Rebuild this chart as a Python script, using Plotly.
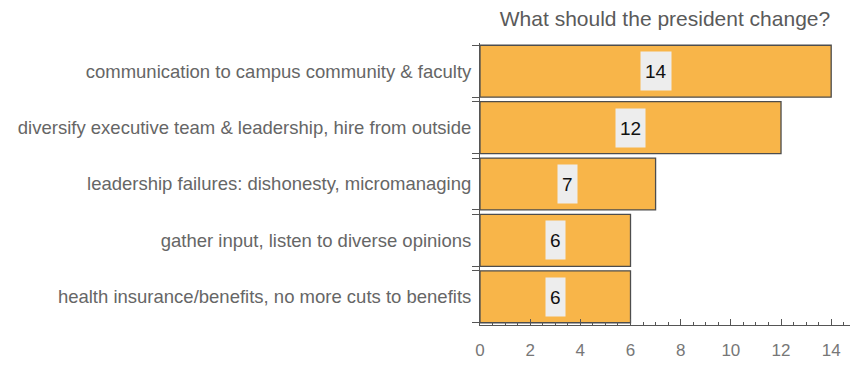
import plotly.graph_objects as go

categories = [
    "communication to campus community & faculty",
    "diversify executive team & leadership, hire from outside",
    "leadership failures: dishonesty, micromanaging",
    "gather input, listen to diverse opinions",
    "health insurance/benefits, no more cuts to benefits",
]
values = [14, 12, 7, 6, 6]
x_ticks = [0, 2, 4, 6, 8, 10, 12, 14]
title_text = "What should the president change?"

n = len(categories)
pos = list(range(n))
bar_w = 0.92
edge_ticks = []
for k in pos:
    edge_ticks += [k - bar_w / 2, k + bar_w / 2]

fig = go.Figure()
fig.add_trace(go.Bar(
    x=values, y=pos, orientation="h", width=bar_w,
    marker=dict(color="#F8B549", line=dict(color="#4d4d4d", width=1.3)),
    hoverinfo="skip",
))

for v, p in zip(values, pos):
    fig.add_annotation(
        x=v / 2, y=p, text=str(v), showarrow=False,
        font=dict(family="Liberation Sans", size=19, color="#111111"),
        bgcolor="#EDEDED", borderpad=4, height=30,
    )

fig.update_layout(
    width=852, height=365,
    margin=dict(l=480, r=2, t=43, b=40),
    paper_bgcolor="white", plot_bgcolor="white",
    showlegend=False,
    title=dict(text=title_text, x=0.5, xref="paper", y=0.95, yref="container",
               xanchor="center", yanchor="middle",
               font=dict(family="Liberation Sans", size=21, color="#5a5a5a")),
)
fig.update_xaxes(
    range=[0, 14.75], tickvals=x_ticks, ticks="inside", ticklen=6, tickwidth=1,
    tickcolor="#555555", showline=True, linecolor="#555555", linewidth=1,
    showgrid=False, zeroline=False,
    minor=dict(dtick=0.5, tick0=0, ticks="inside", ticklen=3, tickcolor="#555555", showgrid=False),
    tickfont=dict(family="Liberation Sans", size=17, color="#777777"),
    ticklabelstandoff=10,
)
fig.update_yaxes(
    range=[n - 0.5, -0.5], tickvals=pos, ticktext=categories, ticks="",
    showline=True, linecolor="#555555", linewidth=1, showgrid=False, zeroline=False,
    minor=dict(tickvals=edge_ticks, ticks="outside", ticklen=7, tickcolor="#555555", showgrid=False),
    tickfont=dict(family="Liberation Sans", size=18.5, color="#666666"),
    ticklabelstandoff=4,
)

fig.write_html("out.html")
